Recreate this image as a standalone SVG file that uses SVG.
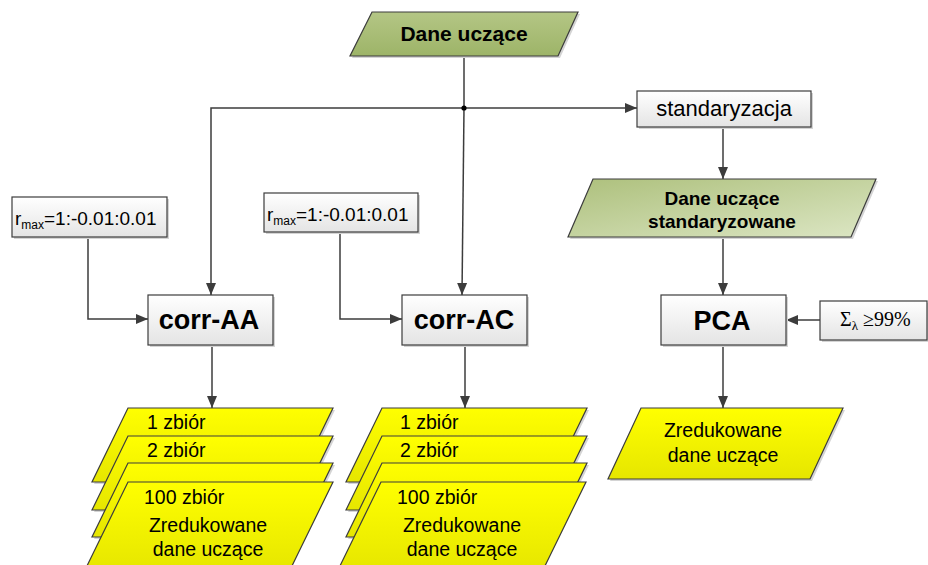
<svg xmlns="http://www.w3.org/2000/svg" width="928" height="565" viewBox="0 0 928 565">
<defs>
<linearGradient id="gBox" x1="0" y1="0" x2="0" y2="1"><stop offset="0" stop-color="#ffffff"/><stop offset="1" stop-color="#e4e4e4"/></linearGradient>
<linearGradient id="gGreen1" x1="0" y1="0" x2="0" y2="1"><stop offset="0" stop-color="#b4c685"/><stop offset="1" stop-color="#9db468"/></linearGradient>
<linearGradient id="gGreen2" x1="0" y1="0" x2="1" y2="1"><stop offset="0" stop-color="#adc07c"/><stop offset="1" stop-color="#dce6c4"/></linearGradient>
<linearGradient id="gYellow" x1="0" y1="0" x2="0" y2="1"><stop offset="0" stop-color="#ffff00"/><stop offset="1" stop-color="#e6e600"/></linearGradient>
<marker id="arr" markerUnits="userSpaceOnUse" markerWidth="12" markerHeight="12" viewBox="0 0 12 12" refX="12" refY="6" orient="auto"><path d="M0,1 L12,6 L0,11 Z" fill="#3c3c3c"/></marker>
</defs>
<style>
.box{fill:url(#gBox);stroke:#3c3c3c;stroke-width:1.2}
.sh{fill:#d4d4d4}
.g1{fill:url(#gGreen1);stroke:#3c3c3c;stroke-width:1.2}
.g2{fill:url(#gGreen2);stroke:#3c3c3c;stroke-width:1.2}
.y{fill:url(#gYellow);stroke:#3c3c3c;stroke-width:1.2}
.c{fill:none;stroke:#3c3c3c;stroke-width:1.5}
.ca{fill:none;stroke:#3c3c3c;stroke-width:1.5;marker-end:url(#arr)}
.t{font-family:"Liberation Sans",Arial,sans-serif;fill:#000}
.b{font-weight:bold}
.m{text-anchor:middle}
</style>

<g id="connectors">
<path class="c" d="M464,56 L464,108"/>
<path class="ca" d="M464,108 L211,108 L211,295"/>
<path class="ca" d="M464,108 L637,108"/>
<path class="ca" d="M464,108 L462,295"/>
<circle cx="464" cy="108" r="2.6" fill="#000"/>
<path class="ca" d="M723,127 L723,179"/>
<path class="ca" d="M723,237 L723,295"/>
<path class="ca" d="M820,320 L786,320"/>
<path class="ca" d="M723,345 L723,408"/>
<path class="ca" d="M88,237 L88,319 L148,319"/>
<path class="ca" d="M340,232 L340,319 L402,319"/>
<path class="ca" d="M212,345 L212,408"/>
<path class="ca" d="M465,345 L465,408"/>
</g>

<g id="dane-uczace">
<polygon class="sh" points="374,14 580,14 560,58 352,58"/>
<polygon class="g1" points="372,12 578,12 558,56 350,56"/>
<text class="t b m" x="464" y="41" font-size="21">Dane uczące</text>
</g>

<g id="standaryzacja">
<rect class="sh" x="639" y="93" width="174" height="36"/>
<rect class="box" x="637" y="91" width="174" height="36"/>
<text class="t m" x="724" y="116" font-size="22">standaryzacja</text>
</g>

<g id="dane-standaryzowane">
<polygon class="sh" points="595,181 878,181 853,239 570,239"/>
<polygon class="g2" points="593,179 876,179 851,237 568,237"/>
<text class="t b m" x="722" y="205" font-size="19">Dane uczące</text>
<text class="t b m" x="722" y="228" font-size="19">standaryzowane</text>
</g>

<g id="rmax-1">
<rect class="sh" x="14" y="199" width="155" height="40"/>
<rect class="box" x="12" y="197" width="155" height="40"/>
<text class="t" x="15" y="225" font-size="19">r<tspan font-size="12" dy="4">max</tspan><tspan dy="-4">=1:-0.01:0.01</tspan></text>
</g>

<g id="rmax-2">
<rect class="sh" x="266" y="195" width="154" height="39"/>
<rect class="box" x="264" y="193" width="154" height="39"/>
<text class="t" x="267" y="221" font-size="19">r<tspan font-size="12" dy="4">max</tspan><tspan dy="-4">=1:-0.01:0.01</tspan></text>
</g>

<g id="corr-AA">
<rect class="sh" x="150" y="297" width="125" height="50"/>
<rect class="box" x="148" y="295" width="125" height="50"/>
<text class="t b m" x="209" y="329" font-size="27">corr-AA</text>
</g>

<g id="corr-AC">
<rect class="sh" x="404" y="297" width="125" height="50"/>
<rect class="box" x="402" y="295" width="125" height="50"/>
<text class="t b m" x="464" y="329" font-size="27">corr-AC</text>
</g>

<g id="pca">
<rect class="sh" x="663" y="297" width="125" height="50"/>
<rect class="box" x="661" y="295" width="125" height="50"/>
<text class="t b m" x="722" y="330" font-size="27">PCA</text>
</g>

<g id="sigma">
<rect class="sh" x="822" y="303" width="107" height="39"/>
<rect class="box" x="820" y="301" width="107" height="39"/>
<text x="840" y="326" font-family="'Liberation Serif','Times New Roman',serif" font-size="20">Σ<tspan font-size="13" dy="4">λ</tspan><tspan dy="-4"> ≥99%</tspan></text>
</g>

<g id="pca-out">
<polygon class="sh" points="643,410 845,410 812,481 610,481"/>
<polygon class="y" points="641,408 843,408 810,479 608,479"/>
<text class="t m" x="723" y="437" font-size="19.5">Zredukowane</text>
<text class="t m" x="723" y="462" font-size="19.5">dane uczące</text>
</g>

<g id="stack-AA">
<polygon class="sh" points="130,410 335,410 299,484 94,484"/>
<polygon class="y" points="128,408 333,408 297,482 92,482"/>
<polygon class="sh" points="130,438 335,438 299,512 94,512"/>
<polygon class="y" points="128,436 333,436 297,510 92,510"/>
<polygon class="sh" points="130,465 335,465 299,539 94,539"/>
<polygon class="y" points="128,463 333,463 297,537 92,537"/>
<polygon class="y" points="128,482 333,482 289,572 84,572"/>
<text class="t" x="147" y="429" font-size="19.5">1 zbiór</text>
<text class="t" x="147" y="457" font-size="19.5">2 zbiór</text>
<text class="t" x="144" y="504" font-size="19.5">100 zbiór</text>
<text class="t m" x="208" y="532" font-size="19.5">Zredukowane</text>
<text class="t m" x="208" y="556" font-size="19.5">dane uczące</text>
</g>

<g id="stack-AC">
<polygon class="sh" points="384,410 589,410 553,484 348,484"/>
<polygon class="y" points="382,408 587,408 551,482 346,482"/>
<polygon class="sh" points="384,438 589,438 553,512 348,512"/>
<polygon class="y" points="382,436 587,436 551,510 346,510"/>
<polygon class="sh" points="384,465 589,465 553,539 348,539"/>
<polygon class="y" points="382,463 587,463 551,537 346,537"/>
<polygon class="y" points="381,482 586,482 542,572 337,572"/>
<text class="t" x="400" y="429" font-size="19.5">1 zbiór</text>
<text class="t" x="400" y="457" font-size="19.5">2 zbiór</text>
<text class="t" x="397" y="504" font-size="19.5">100 zbiór</text>
<text class="t m" x="462" y="532" font-size="19.5">Zredukowane</text>
<text class="t m" x="462" y="556" font-size="19.5">dane uczące</text>
</g>
</svg>
